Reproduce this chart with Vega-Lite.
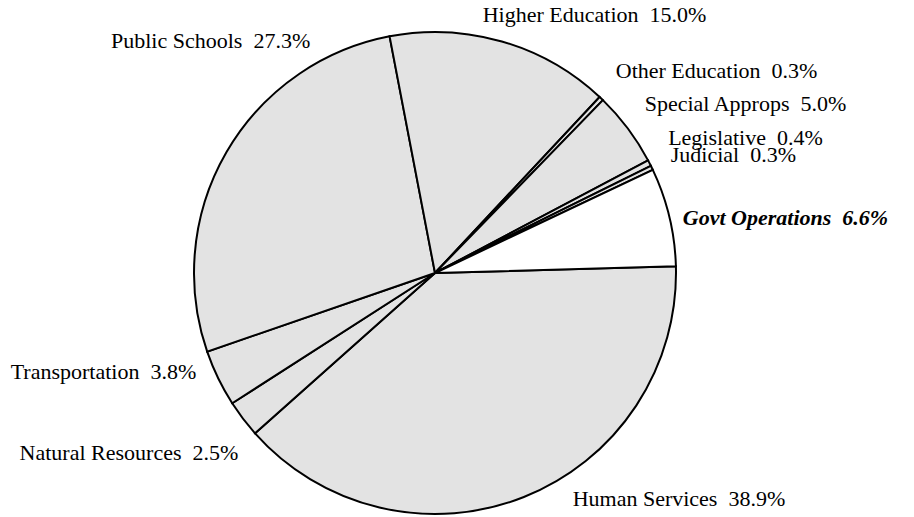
{
  "$schema": "https://vega.github.io/schema/vega-lite/v6.json",
  "width": 870,
  "height": 486,
  "autosize": "none",
  "padding": {"left": 0, "top": 30, "right": 44, "bottom": 1},
  "background": "white",
  "view": {"stroke": null},
  "config": {"text": {"font": "Liberation Serif", "fontSize": 22, "color": "black", "baseline": "middle"}},
  "data": {
    "values": [
      {"idx": 1, "name": "Human Services", "pct": 38.9, "label": "Human Services \u00a038.9%"},
      {"idx": 2, "name": "Natural Resources", "pct": 2.5, "label": "Natural Resources \u00a02.5%"},
      {"idx": 3, "name": "Transportation", "pct": 3.8, "label": "Transportation \u00a03.8%"},
      {"idx": 4, "name": "Public Schools", "pct": 27.3, "label": "Public Schools \u00a027.3%"},
      {"idx": 5, "name": "Higher Education", "pct": 15.0, "label": "Higher Education \u00a015.0%"},
      {"idx": 6, "name": "Other Education", "pct": 0.3, "label": "Other Education \u00a00.3%"},
      {"idx": 7, "name": "Special Approps", "pct": 5.0, "label": "Special Approps \u00a05.0%"},
      {"idx": 8, "name": "Legislative", "pct": 0.4, "label": "Legislative \u00a00.4%"},
      {"idx": 9, "name": "Judicial", "pct": 0.3, "label": "Judicial \u00a00.3%"},
      {"idx": 10, "name": "Govt Operations", "pct": 6.6, "label": "Govt Operations \u00a06.6%"}
    ]
  },
  "encoding": {
    "theta": {"field": "pct", "type": "quantitative", "stack": true, "scale": {"range": [1.543, 7.826], "nice": false, "zero": true}},
    "order": {"field": "idx", "type": "quantitative"}
  },
  "layer": [
    {
      "mark": {"type": "arc", "outerRadius": 241, "stroke": "black", "strokeWidth": 2},
      "encoding": {
        "fill": {"condition": {"test": "datum.name === 'Govt Operations'", "value": "white"}, "value": "#e3e3e3"}
      }
    },
    {
      "mark": {"type": "text", "radius": 262, "align": "left", "dy": -12},
      "encoding": {"text": {"condition": {"test": "indexof(['Other Education','Special Approps'], datum.name) >= 0", "field": "label"}, "value": ""}}
    },
    {
      "mark": {"type": "text", "radius": 262, "align": "left", "dy": -15},
      "encoding": {"text": {"condition": {"test": "datum.name === 'Legislative'", "field": "label"}, "value": ""}}
    },
    {
      "mark": {"type": "text", "radius": 262, "align": "left", "dy": -4},
      "encoding": {"text": {"condition": {"test": "datum.name === 'Judicial'", "field": "label"}, "value": ""}}
    },
    {
      "mark": {"type": "text", "radius": 262, "align": "left", "dx": -25, "dy": -6},
      "encoding": {"text": {"condition": {"test": "datum.name === 'Higher Education'", "field": "label"}, "value": ""}}
    },
    {
      "mark": {"type": "text", "radius": 262, "align": "left", "dx": -7, "dy": 6, "fontWeight": "bold", "fontStyle": "italic"},
      "encoding": {"text": {"condition": {"test": "datum.name === 'Govt Operations'", "field": "label"}, "value": ""}}
    },
    {
      "mark": {"type": "text", "radius": 262, "align": "left", "dx": 41, "dy": -18},
      "encoding": {"text": {"condition": {"test": "datum.name === 'Human Services'", "field": "label"}, "value": ""}}
    },
    {
      "mark": {"type": "text", "radius": 262, "align": "right", "dx": 12, "dy": 22},
      "encoding": {"text": {"condition": {"test": "datum.name === 'Natural Resources'", "field": "label"}, "value": ""}}
    },
    {
      "mark": {"type": "text", "radius": 262, "align": "right", "dx": -3, "dy": -15},
      "encoding": {"text": {"condition": {"test": "datum.name === 'Transportation'", "field": "label"}, "value": ""}}
    },
    {
      "mark": {"type": "text", "radius": 262, "align": "right", "dx": 102, "dy": -101},
      "encoding": {"text": {"condition": {"test": "datum.name === 'Public Schools'", "field": "label"}, "value": ""}}
    }
  ]
}
